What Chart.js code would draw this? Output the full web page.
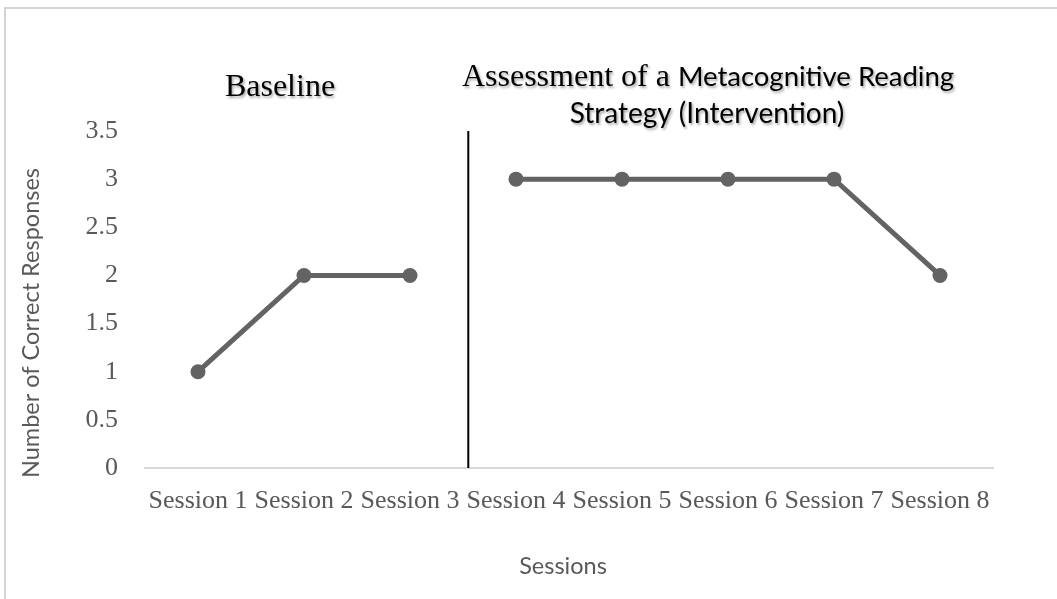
<!DOCTYPE html>
<html>
<head>
<meta charset="utf-8">
<script src="https://cdn.jsdelivr.net/npm/chart.js@4/dist/chart.umd.min.js"></script>
<style>
  html, body { margin: 0; padding: 0; background: #fff; }
  #wrap { position: relative; width: 1057px; height: 599px; }
</style>
</head>
<body>
<div id="wrap"><canvas id="grafico" width="1057" height="599"></canvas></div>
<script>
// dados
const sessoes = ['Session 1', 'Session 2', 'Session 3', 'Session 4', 'Session 5', 'Session 6', 'Session 7', 'Session 8'];
const linhaBase = [1, 2, 2, null, null, null, null, null];
const intervencao = [null, null, null, 3, 3, 3, 3, 2];
const yTicks = [0, 0.5, 1, 1.5, 2, 2.5, 3, 3.5];

const corLinha = '#636363';
const serif = '"Liberation Serif", "Times New Roman", serif';
const sans = 'Lato, "Open Sans", sans-serif';

// borda, linha divisoria, titulos dos eixos e das fases
const extras = {
  id: 'extras',
  beforeDraw(chart) {
    const ctx = chart.ctx;
    ctx.save();
    ctx.strokeStyle = '#d4d4d4';
    ctx.lineWidth = 2;
    ctx.strokeRect(5, 8, 2000, 2000);
    ctx.restore();
  },
  afterDraw(chart) {
    const ctx = chart.ctx;
    const x = chart.scales.x;
    const area = chart.chartArea;
    // linha vertical entre Session 3 e Session 4
    const xDiv = x.getPixelForValue(2.55);
    ctx.save();
    ctx.strokeStyle = '#000';
    ctx.lineWidth = 2;
    ctx.beginPath();
    ctx.moveTo(xDiv, area.top);
    ctx.lineTo(xDiv, area.bottom);
    ctx.stroke();

    // titulos dos eixos
    ctx.fillStyle = '#595959';
    ctx.font = '23.5px ' + sans;
    ctx.textAlign = 'center';
    ctx.textBaseline = 'middle';
    ctx.fillText('Sessions', 563, 566);
    ctx.save();
    ctx.translate(31, 323);
    ctx.rotate(-Math.PI / 2);
    ctx.fillText('Number of Correct Responses', 0, 0);
    ctx.restore();

    ctx.shadowColor = 'rgba(0,0,0,0.35)';
    ctx.shadowOffsetX = 1.5;
    ctx.shadowOffsetY = 1.5;
    ctx.shadowBlur = 2.5;
    ctx.fillStyle = '#000';
    ctx.textBaseline = 'alphabetic';

    ctx.font = '32px ' + serif;
    ctx.textAlign = 'center';
    ctx.fillText('Baseline', 280, 96);

    // primeira linha com duas fontes
    const p1 = 'Assessment of a ';
    const p2 = 'Metacognitive Reading';
    ctx.font = '32px ' + serif;
    const w1 = ctx.measureText(p1).width;
    ctx.font = '27.5px ' + sans;
    const w2 = ctx.measureText(p2).width;
    let x0 = 708 - (w1 + w2) / 2;
    ctx.textAlign = 'left';
    ctx.font = '32px ' + serif;
    ctx.fillText(p1, x0, 86);
    ctx.font = '27.5px ' + sans;
    ctx.fillText(p2, x0 + w1, 86);

    ctx.font = '28px ' + sans;
    ctx.textAlign = 'center';
    ctx.fillText('Strategy (Intervention)', 707, 123);
    ctx.restore();
  }
};

const ctx = document.getElementById('grafico').getContext('2d');
const grafico = new Chart(ctx, {
  type: 'line',
  data: {
    labels: sessoes,
    datasets: [
      {
        label: 'Baseline',
        data: linhaBase,
        borderColor: corLinha,
        backgroundColor: corLinha,
        borderWidth: 5,
        pointRadius: 7.5,
        pointBackgroundColor: corLinha,
        pointBorderWidth: 0,
        spanGaps: false
      },
      {
        label: 'Intervention',
        data: intervencao,
        borderColor: corLinha,
        backgroundColor: corLinha,
        borderWidth: 5,
        pointRadius: 7.5,
        pointBackgroundColor: corLinha,
        pointBorderWidth: 0,
        spanGaps: false
      }
    ]
  },
  options: {
    responsive: false,
    animation: false,
    layout: { padding: { left: 13, top: 131, right: 64, bottom: 15 } },
    plugins: {
      legend: { display: false },
      tooltip: { enabled: false }
    },
    scales: {
      x: {
        offset: true,
        grid: { display: false, drawTicks: false },
        border: { display: true, color: '#d9d9d9', width: 2 },
        ticks: {
          color: '#595959',
          font: { family: serif, size: 26 },
          padding: 18,
          autoSkip: false,
          maxRotation: 0,
          minRotation: 0
        },
        title: { display: false },
        afterFit(scale) { scale.height = 599 - 15 - 468; }
      },
      y: {
        min: 0,
        max: 3.5,
        grid: { display: false, drawTicks: false },
        border: { display: false },
        afterBuildTicks(scale) { scale.ticks = yTicks.map(v => ({ value: v })); },
        ticks: {
          color: '#595959',
          font: { family: serif, size: 26 },
          padding: 27,
          callback: function (v) { return String(v); }
        },
        title: { display: false },
        afterFit(scale) { scale.width = 145 - 13; }
      }
    }
  },
  plugins: [extras]
});
</script>
</body>
</html>
